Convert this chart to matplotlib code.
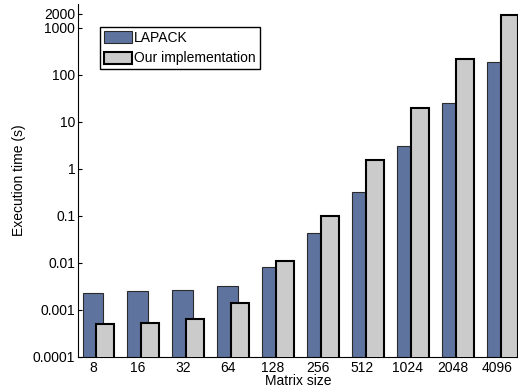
import matplotlib
matplotlib.use("Agg")
import matplotlib.pyplot as plt
import numpy as np

plt.rcParams['font.family'] = ['Liberation Sans', 'DejaVu Sans']

# datos
tamanos = ["8", "16", "32", "64", "128", "256", "512", "1024", "2048", "4096"]
lapack = [0.0023, 0.0025, 0.0027, 0.0033, 0.008, 0.044, 0.32, 3.1, 25, 190]
nuestra = [0.0005, 0.00052, 0.00065, 0.0014, 0.011, 0.098, 1.55, 20, 220, 1900]

fig = plt.figure(figsize=(5.18, 3.89), dpi=100)
ax = fig.add_axes([0.1506, 0.0823, 0.8494, 0.9075])

x = np.arange(len(tamanos))
ax.bar(x, lapack, width=0.46, color='#5f739f', edgecolor='#2b2b2b',
       linewidth=0.8, label='LAPACK', zorder=2)
ax.bar(x + 0.08, nuestra, width=0.39, align='edge', color='#cbcbcb',
       edgecolor='black', linewidth=1.5, label='Our implementation', zorder=3)

ax.set_yscale('log')
ax.set_ylim(1e-4, 3200)
ax.set_xlim(-0.33, 9.46)
ax.set_yticks([1e-4, 1e-3, 1e-2, 1e-1, 1, 10, 100, 1000, 2000])
ax.set_yticklabels(['0.0001', '0.001', '0.01', '0.1', '1', '10', '100', '1000', '2000'])
ax.minorticks_off()
ax.set_xticks(x)
ax.set_xticklabels(tamanos)

ax.tick_params(axis='y', direction='in', length=3, labelsize=10, pad=2)
ax.tick_params(axis='x', length=0, labelsize=10, pad=3)
ax.spines['top'].set_visible(False)
ax.spines['right'].set_visible(False)

ax.set_xlabel('Matrix size', fontsize=10, labelpad=-1)
ax.set_ylabel('Execution time (s)', fontsize=10, labelpad=5)

leg = ax.legend(loc='upper left', bbox_to_anchor=(0.05, 0.935), borderaxespad=0,
                fontsize=10, handlelength=2.0, handleheight=0.95, handletextpad=0.15,
                labelspacing=0.45, borderpad=0.3, fancybox=False, framealpha=1)
leg.get_frame().set_edgecolor('black')
leg.get_frame().set_linewidth(1.0)

fig.savefig('out.png', dpi=100)
